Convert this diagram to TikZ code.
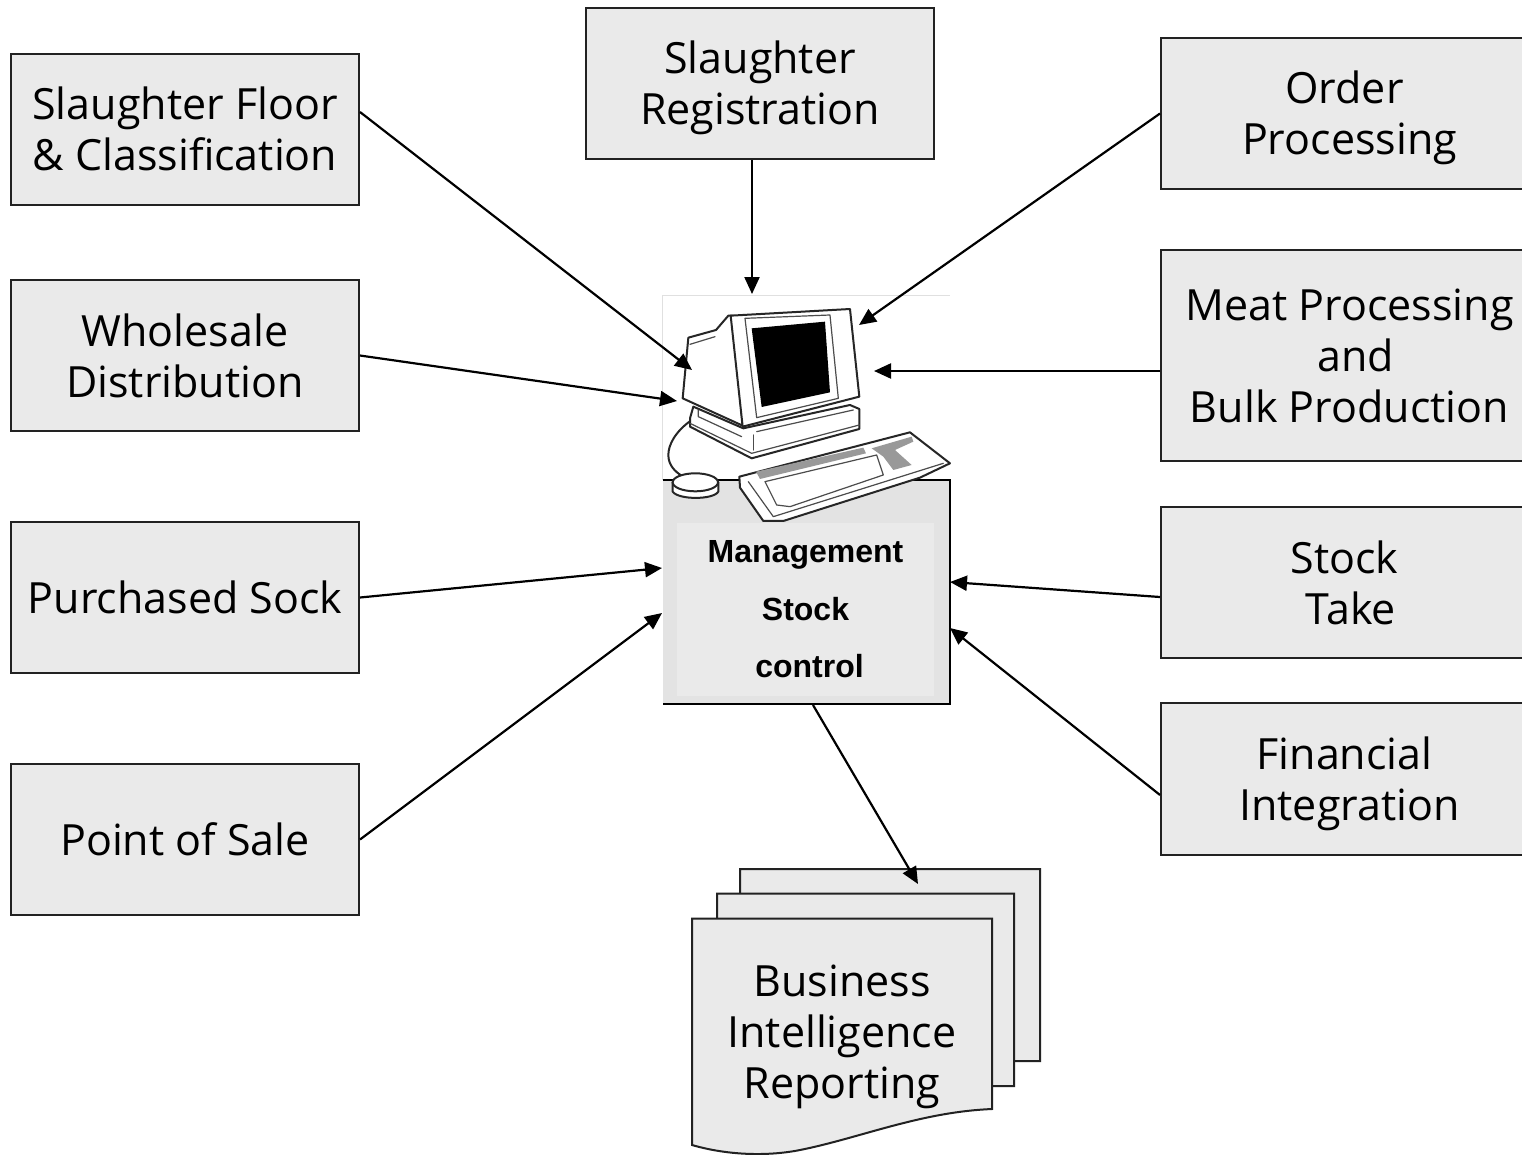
\documentclass[tikz,border=0pt]{standalone}
\usepackage{fontspec}
\setmainfont{Open Sans}
\newfontfamily\labelfont{Liberation Sans}
\usetikzlibrary{arrows.meta}
\definecolor{boxgrey}{HTML}{EAEAEA}
\definecolor{basegrey}{HTML}{E3E3E3}
\definecolor{keygrey}{HTML}{999999}
\definecolor{inkline}{HTML}{222222}
\newcommand\lowerline{\rule{0pt}{42pt}}
\tikzset{
  modulebox/.style={draw=inkline,fill=boxgrey,line width=2pt,minimum width=348pt,minimum height=151pt,
    inner sep=0pt,align=center,font=\fontsize{43}{51}\selectfont},
  rightbox/.style={modulebox,minimum width=377pt},
  flow/.style={-{Triangle[length=17pt,width=15pt]},line width=2.2pt,black},
  pagesheet/.style={draw=inkline,fill=boxgrey,line width=2pt,line join=miter},
  sketch/.style={draw=black!85,line width=2pt,line join=round,line cap=round},
  fineline/.style={draw=black!70,line width=1.2pt,line join=round,line cap=round},
}
\begin{document}
\begin{tikzpicture}[x=1pt,y=-1pt]
\useasboundingbox (0,0) rectangle (1522,1154);
\fill[white] (0,0) rectangle (1522,1154);

% boxes
\node[modulebox] (floor) at (185,129) {Slaughter Floor\\\& Classification};
\node[modulebox] (whole) at (185,355.5) {Wholesale\\Distribution};
\node[modulebox] (purch) at (185,597.5) {Purchased Sock};
\node[modulebox] (pos) at (185,839.5) {Point of Sale};
\node[modulebox] (reg) at (760,83.5) {\lowerline Slaughter\\Registration};
\node[rightbox] (order) at (1349.5,113.5) {\lowerline Order\hspace*{10pt}\\Processing};
\node[rightbox,minimum height=211pt] (meat) at (1349.5,355.5) {Meat Processing\\\hspace*{12pt}and\\Bulk Production};
\node[rightbox] (take) at (1349.5,582.5) {Stock\hspace*{10pt}\\\hspace*{3pt}Take};
\node[rightbox,minimum height=152pt] (fin) at (1349.5,779) {\lowerline Financial\hspace*{10pt}\\Integration};

% computer panel
\draw[black!12,line width=1pt,fill=white] (662,480) -- (662,295) -- (950,295);
\fill[basegrey] (662.5,480) rectangle (950,704);
\draw[black,line width=2pt] (662.5,480) -- (950,480) -- (950,704) -- (662.5,704);
\node[fill=boxgrey,minimum width=257pt,minimum height=173pt,inner sep=0pt,align=center,
  font=\labelfont\bfseries\fontsize{32}{57.5}\selectfont] (mgmt) at (805.5,609.5)
  {Management\\Stock\\\hspace*{8pt}control};

% computer picture
\begin{scope}[shift={(650,285)},x=0.3333pt,y=-0.3333pt]
  % cable
  \draw[sketch] (125,405) .. controls (75,440) and (55,480) .. (55,510) .. controls (55,540) and (75,560) .. (95,572);
  % stand
  \draw[sketch,fill=white] (130,365) -- (120,400) -- (120,425) -- (305,520) -- (628,432) -- (628,372) -- (600,360) -- (280,430) -- cycle;
  \draw[fineline] (120,415) -- (305,505) -- (628,420);
  \draw[fineline] (145,375) -- (145,395) -- (275,455);
  \draw[fineline] (310,450) -- (310,495);
  \draw[fineline] (320,440) -- (610,375);
  % monitor body
  \draw[sketch,fill=white] (115,158) -- (198,135) -- (235,92) -- (250,92) -- (278,422) -- (98,340) -- cycle;
  \draw[fineline] (120,178) -- (195,155);
  % front
  \draw[sketch,fill=white] (242,92) -- (600,72) -- (628,335) -- (278,425) -- cycle;
  \draw[fineline] (285,100) -- (540,90) -- (565,340) -- (320,398) -- cycle;
  \fill[black] (305,130) -- (525,110) -- (540,322) -- (335,366) -- cycle;
  % keyboard
  \draw[sketch,fill=white] (268,575) -- (780,442) -- (900,535) -- (810,578) -- (400,708) -- (340,708) -- (270,608) -- cycle;
  \fill[keygrey] (318,560) -- (640,488) -- (648,505) -- (330,582) -- cycle;
  \fill[keygrey] (665,490) -- (785,455) -- (790,470) -- (735,495) -- (785,540) -- (730,555) -- (700,515) -- cycle;
  \draw[fineline] (345,590) -- (680,510) -- (700,570) -- (420,665) -- (380,660) -- cycle;
  \draw[fineline] (295,590) -- (370,695) -- (880,535);
  % mouse
  \draw[sketch,fill=white] (68,592) -- (68,620) .. controls (85,645) and (190,645) .. (205,620) -- (205,592);
  \draw[sketch,fill=white] (136,592) ellipse [x radius=22.7pt,y radius=9pt];
\end{scope}

% report stack
\draw[pagesheet] (740,869) -- (1040,869) -- (1040,1061) -- (740,1063) -- cycle;
\draw[pagesheet] (717,893.5) -- (1014,893.5) -- (1014,1086) -- (717,1088) -- cycle;
\draw[pagesheet] (692,918.5) -- (992,918.5) -- (992,1109)
  .. controls (920,1112) and (860,1138) .. (800,1150)
  .. controls (770,1156) and (730,1156) .. (692,1145) -- cycle;
\node[inner sep=0pt,align=center,font=\fontsize{43}{51}\selectfont] (report) at (842,1037)
  {Business\\Intelligence\\Reporting};

% connector ends on the computer
\coordinate (cFloor) at (692,370);
\coordinate (cWhole) at (677,401);
\coordinate (cPurch) at (662,568);
\coordinate (cPos) at (662,613);
\coordinate (cReg) at (752,294);
\coordinate (cOrder) at (859,325);
\coordinate (cMeat) at (874,371);
\coordinate (cTake) at (950,582);
\coordinate (cFin) at (950,628);
\coordinate (cOut) at (813,705);
\coordinate (cDoc) at (918,884);

\draw[flow] ([yshift=17pt]floor.east) -- (cFloor);
\draw[flow] (whole.east) -- (cWhole);
\draw[flow] (purch.east) -- (cPurch);
\draw[flow] (pos.east) -- (cPos);
\draw[flow] ([xshift=-8pt]reg.south) -- (cReg);
\draw[flow] (order.west) -- (cOrder);
\draw[flow] ([yshift=-15.5pt]meat.west) -- (cMeat);
\draw[flow] ([yshift=-14.5pt]take.west) -- (cTake);
\draw[flow] ([yshift=-16pt]fin.west) -- (cFin);
\draw[flow] (cOut) -- (cDoc);
\end{tikzpicture}
\end{document}
